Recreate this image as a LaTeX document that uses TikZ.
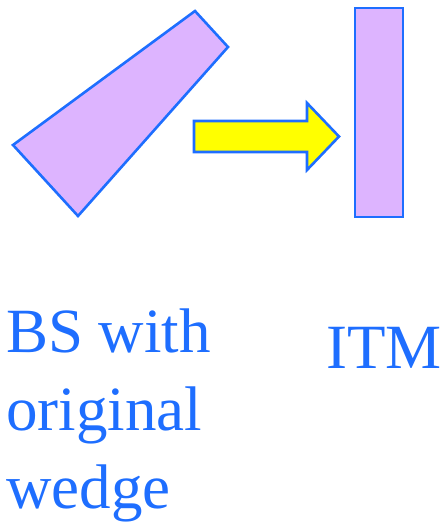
\documentclass[tikz,border=0pt]{standalone}
\usepackage{fontspec}
\setmainfont{Liberation Serif}
\definecolor{edgeblue}{RGB}{30,110,255}
\definecolor{lilac}{RGB}{221,180,255}
\definecolor{arrowyellow}{RGB}{255,255,0}
\begin{document}
\begin{tikzpicture}[x=1pt,y=-1pt,
  optic/.style={draw=edgeblue,line width=2.6pt,line join=miter,fill=lilac},
  label/.style={text=edgeblue,font=\fontsize{63}{78}\selectfont,inner sep=0pt,align=left}]
\useasboundingbox (0,0) rectangle (445,522);
% beam splitter with the wedge
\filldraw[optic] (195,11) -- (228,47) -- (78,216) -- (13,145) -- cycle;
% direction arrow
\filldraw[draw=edgeblue,line width=2.6pt,fill=arrowyellow]
  (194,121) -- (307,121) -- (307,103) -- (339,136.5) -- (307,170) -- (307,152) -- (194,152) -- cycle;
% input test mass
\filldraw[optic] (355,8) rectangle (403,217);
% captions (base anchor sits on the last line)
\node[label,anchor=base west] (bs) at (6,508) {BS with\\original\\wedge};
\node[label,anchor=base west] (itm) at (326,368) {ITM};
\end{tikzpicture}
\end{document}
